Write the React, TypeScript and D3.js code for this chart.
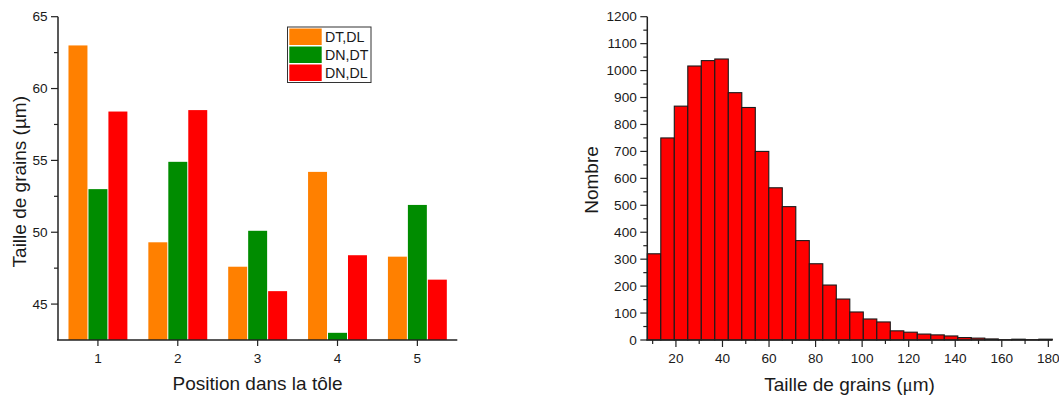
import React from "react";
import * as d3 from "d3";

// ---- Left chart data ----
const positions = [1, 2, 3, 4, 5];
const seriesNames = ["DT,DL", "DN,DT", "DN,DL"];
const seriesColors = ["#FF8000", "#008C00", "#FF0000"];
const dtdl = [63.0, 49.3, 47.6, 54.2, 48.3];
const dndt = [53.0, 54.9, 50.1, 43.0, 51.9];
const dndl = [58.4, 58.5, 45.9, 48.4, 46.7];
const leftYTicks = [45, 50, 55, 60, 65];
const leftYMinor = [47.5, 52.5, 57.5, 62.5];

// ---- Right chart data (histogram) ----
const binEdges = [
  7.7, 13.5, 19.3, 25.1, 30.9, 36.7, 42.5, 48.3, 54.1, 59.9, 65.7, 71.5, 77.3,
  83.1, 88.9, 94.7, 100.5, 106.3, 112.1, 117.9, 123.7, 129.5, 135.3, 141.1,
  146.9, 152.7, 158.5, 164.3, 170.1, 175.9, 181.7,
];
const counts = [
  320, 750, 868, 1017, 1037, 1043, 918, 863, 700, 565, 495, 369, 283, 204, 152,
  104, 78, 67, 34, 29, 22, 19, 15, 9, 7, 4, 1, 3, 1, 3,
];
const rightXTicks = [20, 40, 60, 80, 100, 120, 140, 160, 180];
const rightXMinor = [10, 30, 50, 70, 90, 110, 130, 150, 170];
const rightYTicks = d3.range(0, 1201, 100);
const rightYMinor = d3.range(50, 1200, 100);

const FONT = "'Liberation Sans', Arial, sans-serif";
const AXIS = "#222";
const TXT = "#1a1a1a";
const TICK_FS = 13.6;

export default function App() {
  // Left chart scales
  const lx = d3.scaleLinear().domain([0.5, 5.5]).range([58, 457.3]);
  const ly = d3.scaleLinear().domain([42.5, 65]).range([340, 16.7]);
  const series = [dtdl, dndt, dndl];
  const barW = 0.25; // in x units

  // Right chart scales
  const rx = d3.scaleLinear().domain([binEdges[0], binEdges[binEdges.length - 1]]).range([647.3, 1052.3]);
  const ry = d3.scaleLinear().domain([0, 1200]).range([340, 16.7]);

  return (
    <div style={{ position: "absolute", left: 0, top: 0 }}>
      <svg width={1059} height={398} style={{ display: "block" }} fontFamily={FONT}>
        <rect width={1059} height={398} fill="#fff" />
        {/* ---------- Left chart ---------- */}
        <g>
          {positions.map((p, i) =>
            series.map((s, k) => {
              const x0 = lx(p + (k - 1.5) * barW) + 0.5;
              const x1 = lx(p + (k - 0.5) * barW) - 0.5;
              return (
                <rect
                  key={`b${i}-${k}`}
                  x={x0}
                  y={ly(s[i])}
                  width={x1 - x0}
                  height={ly(42.5) - ly(s[i])}
                  fill={seriesColors[k]}
                />
              );
            })
          )}
          {/* axes */}
          <line x1={lx(0.5)} x2={lx(0.5)} y1={ly(65)} y2={ly(42.5)} stroke={AXIS} strokeWidth={1.5} />
          <line x1={lx(0.5) - 1} x2={lx(5.5)} y1={ly(42.5)} y2={ly(42.5)} stroke={AXIS} strokeWidth={1.5} />
          {leftYTicks.map((t) => (
            <g key={`ly${t}`}>
              <line x1={lx(0.5) - 7} x2={lx(0.5)} y1={ly(t)} y2={ly(t)} stroke={AXIS} strokeWidth={1.2} />
              <text x={lx(0.5) - 10.5} y={ly(t)} dy="0.35em" textAnchor="end" fontSize={TICK_FS} fill={TXT}>
                {t}
              </text>
            </g>
          ))}
          {leftYMinor.map((t) => (
            <line key={`lym${t}`} x1={lx(0.5) - 4} x2={lx(0.5)} y1={ly(t)} y2={ly(t)} stroke={AXIS} strokeWidth={1.2} />
          ))}
          {positions.map((p) => (
            <g key={`lx${p}`}>
              <line x1={lx(p)} x2={lx(p)} y1={ly(42.5)} y2={ly(42.5) + 6} stroke={AXIS} strokeWidth={1.2} />
              <text x={lx(p)} y={362.5} textAnchor="middle" fontSize={TICK_FS} fill={TXT}>
                {p}
              </text>
            </g>
          ))}
          <text x={257.5} y={390} textAnchor="middle" fontSize={19} fill={TXT}>
            Position dans la tôle
          </text>
          <text transform="translate(25.5,181.7) rotate(-90)" textAnchor="middle" fontSize={19} fill={TXT}>
            Taille de grains (µm)
          </text>
          {/* legend */}
          <rect x={287.5} y={27} width={83.5} height={55.5} fill="#fff" stroke="#333" strokeWidth={1} />
          {seriesNames.map((n, k) => (
            <g key={`lg${k}`}>
              <rect x={289.3} y={28.5 + k * 18} width={32.4} height={16.5} fill={seriesColors[k]} />
              <text x={325} y={36.8 + k * 18} dy="0.36em" fontSize={14.2} fill={TXT}>
                {n}
              </text>
            </g>
          ))}
        </g>

        {/* ---------- Right chart ---------- */}
        <g>
          {counts.map((c, i) => (
            <rect
              key={`h${i}`}
              x={rx(binEdges[i])}
              y={ry(c)}
              width={rx(binEdges[i + 1]) - rx(binEdges[i])}
              height={ry(0) - ry(c)}
              fill="#FF0000"
              stroke="#1a1a1a"
              strokeWidth={1.1}
            />
          ))}
          <line x1={rx.range()[0]} x2={rx.range()[0]} y1={ry(1200)} y2={ry(0)} stroke={AXIS} strokeWidth={1.5} />
          <line x1={rx.range()[0] - 1} x2={rx.range()[1]} y1={ry(0)} y2={ry(0)} stroke={AXIS} strokeWidth={1.5} />
          {rightYTicks.map((t) => (
            <g key={`ry${t}`}>
              <line x1={rx.range()[0] - 7} x2={rx.range()[0]} y1={ry(t)} y2={ry(t)} stroke={AXIS} strokeWidth={1.2} />
              <text x={rx.range()[0] - 10.5} y={ry(t)} dy="0.35em" textAnchor="end" fontSize={TICK_FS} fill={TXT}>
                {t}
              </text>
            </g>
          ))}
          {rightYMinor.map((t) => (
            <line key={`rym${t}`} x1={rx.range()[0] - 4} x2={rx.range()[0]} y1={ry(t)} y2={ry(t)} stroke={AXIS} strokeWidth={1.2} />
          ))}
          {rightXTicks.map((t) => (
            <g key={`rx${t}`}>
              <line x1={rx(t)} x2={rx(t)} y1={ry(0)} y2={ry(0) + 7} stroke={AXIS} strokeWidth={1.2} />
              <text x={rx(t)} y={362.5} textAnchor="middle" fontSize={TICK_FS} fill={TXT}>
                {t}
              </text>
            </g>
          ))}
          {rightXMinor.map((t) => (
            <line key={`rxm${t}`} x1={rx(t)} x2={rx(t)} y1={ry(0)} y2={ry(0) + 4} stroke={AXIS} strokeWidth={1.2} />
          ))}
          <text x={849.5} y={391} textAnchor="middle" fontSize={19} fill={TXT}>
            Taille de grains (<tspan fontFamily="'Liberation Serif', serif">μ</tspan>m)
          </text>
          <text transform="translate(598,180) rotate(-90)" textAnchor="middle" fontSize={19} fill={TXT}>
            Nombre
          </text>
        </g>
      </svg>
    </div>
  );
}
